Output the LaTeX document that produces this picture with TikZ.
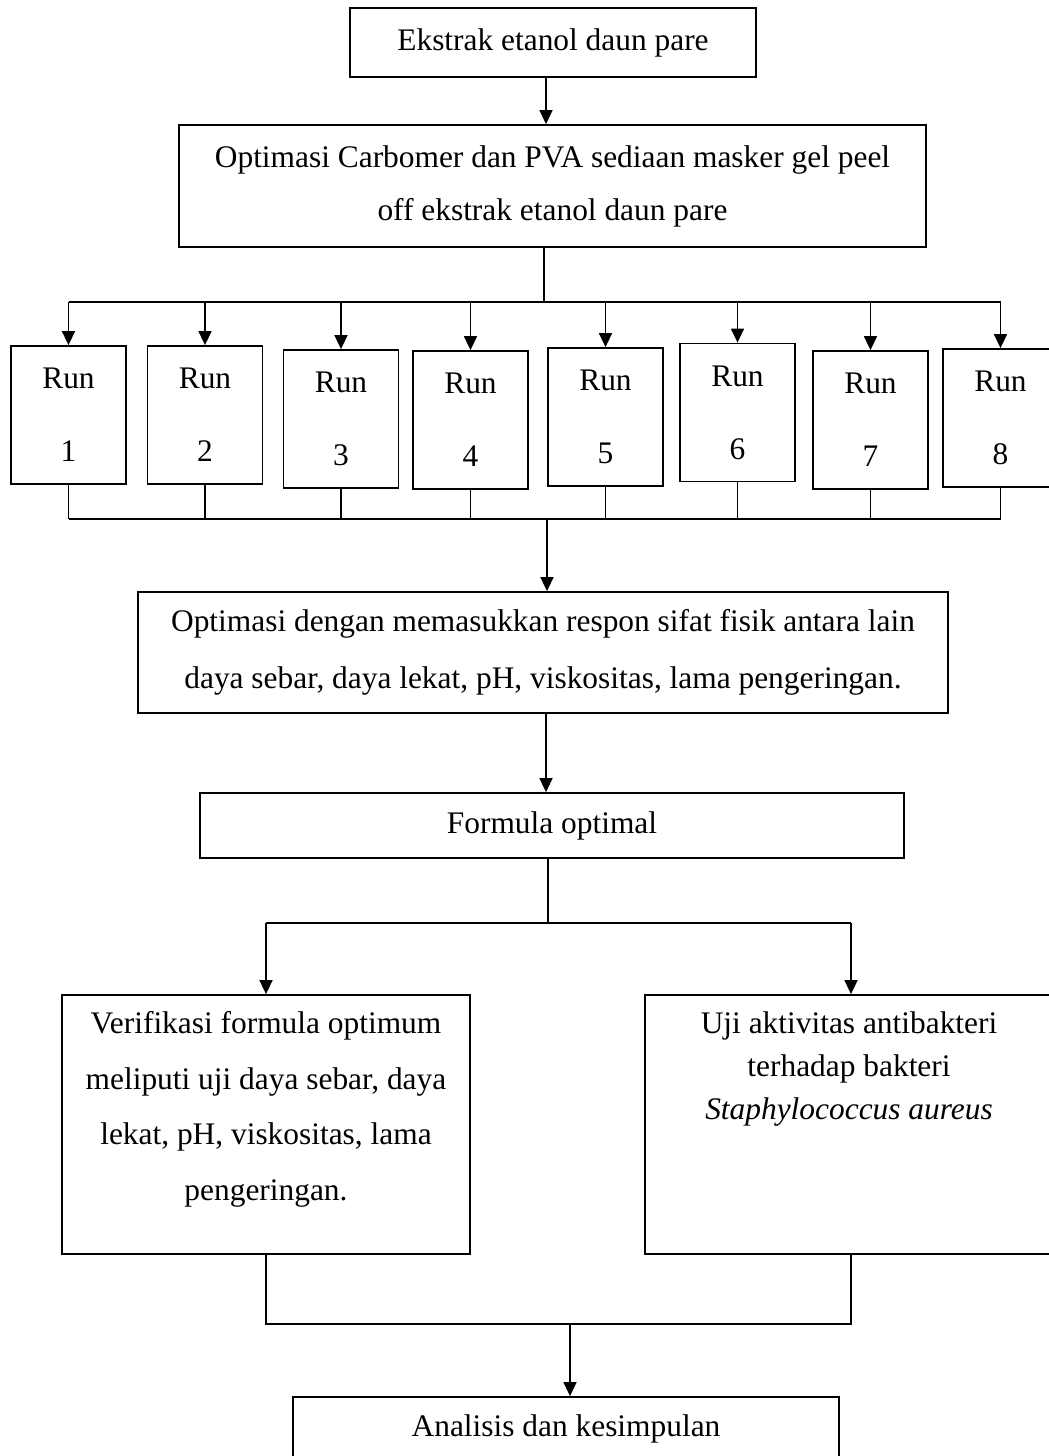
\documentclass[tikz,border=0pt]{standalone}
\usepackage{fontspec}
\setmainfont{Liberation Serif}
\usetikzlibrary{arrows.meta}
\newcommand{\fs}[1]{\fontsize{15.7}{#1}\selectfont}
\begin{document}
\begin{tikzpicture}[x=0.5pt,y=-0.5pt,line width=0.8pt,
  box/.style={draw,line width=0.9pt,inner sep=0pt,align=center,font=\fs{26.5}},
  runbox/.style={box,minimum width=57.5pt,minimum height=69pt,font=\fs{36.5}},
  txt/.style={inner sep=0pt,align=center},
  arr/.style={-{Triangle[length=7pt,width=6.5pt]}}]
\path[use as bounding box,clip] (0,0) rectangle (1049,1456);
% main boxes
\node[box,minimum width=203pt,minimum height=34.5pt] (b1) at (553,42.5) {Ekstrak etanol daun pare};
\node[box,minimum width=373.5pt,minimum height=61pt] (b2) at (552.5,186) {Optimasi Carbomer dan PVA sediaan masker gel peel\\off ekstrak etanol daun pare};
% runs
\node[runbox] (r1) at (68.5,415) {Run\\1};
\node[runbox] (r2) at (205,415) {Run\\2};
\node[runbox] (r3) at (341,419) {Run\\3};
\node[runbox] (r4) at (470.5,420) {Run\\4};
\node[runbox] (r5) at (605.5,417) {Run\\5};
\node[runbox] (r6) at (737.5,412.5) {Run\\6};
\node[runbox] (r7) at (870.5,420) {Run\\7};
\node[runbox] (r8) at (1000.5,418) {Run\\8};
\node[box,minimum width=405pt,minimum height=60.5pt,font=\fs{28.5}] (b3) at (543,652.5) {Optimasi dengan memasukkan respon sifat fisik antara lain\\daya sebar, daya lekat, pH, viskositas, lama pengeringan.};
\node[box,minimum width=352pt,minimum height=32.5pt] (b4) at (552,825.5) {Formula optimal};
\node[box,minimum width=204pt,minimum height=129.5pt] (b5) at (266,1124.5) {};
\node[txt,font=\fs{27.8}] (t5) at (266,1109.5) {Verifikasi formula optimum\\meliputi uji daya sebar, daya\\lekat, pH, viskositas, lama\\pengeringan.};
\node[box,minimum width=206pt,minimum height=129.5pt] (b6) at (851,1124.5) {};
\node[txt,font=\fs{21.5}] (t6) at (849,1069) {Uji aktivitas antibakteri\\terhadap bakteri\\\textit{Staphylococcus aureus}};
\node[box,minimum width=273pt,minimum height=31.5pt] (b7) at (566,1428.5) {Analisis dan kesimpulan};
% junctions
\coordinate (j1) at (544,302);
\coordinate (j2) at (547,519);
\coordinate (j3) at (548,923);
\coordinate (j4) at (570,1324);
% connectors
\draw[arr] (b1.south -| 546,0) -- (b2.north -| 546,0);
\draw (b2.south -| j1) -- (j1);
\draw (r1.north |- j1) -- (r8.north |- j1);
\foreach \i in {1,...,8}{
  \draw[arr] (r\i.north |- j1) -- (r\i.north);
  \draw (r\i.south) -- (r\i.south |- j2);
}
\draw (r1.south |- j2) -- (r8.south |- j2);
\draw[arr] (j2) -- (j2 |- b3.north);
\draw[arr] (b3.south -| 546,0) -- (b4.north -| 546,0);
\draw (b4.south -| j3) -- (j3);
\draw (b5.north |- j3) -- (b6.north |- j3);
\draw[arr] (b5.north |- j3) -- (b5.north);
\draw[arr] (b6.north |- j3) -- (b6.north);
\draw (b5.south) -- (b5.south |- j4) -- (b6.south |- j4) -- (b6.south);
\draw[arr] (j4) -- (j4 |- b7.north);
\end{tikzpicture}
\end{document}
